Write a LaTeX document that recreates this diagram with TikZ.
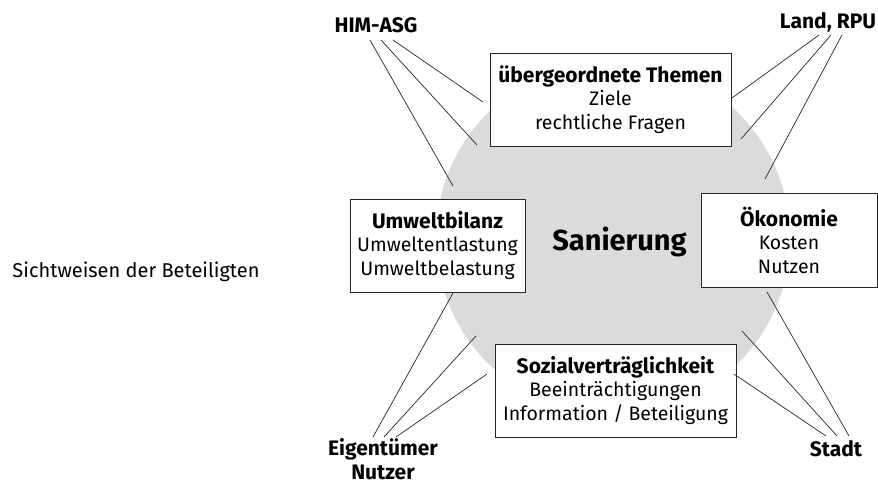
\documentclass[tikz,border=0pt]{standalone}
\usepackage{fontspec}
\setmainfont{Fira Sans}
\newcommand{\boxtitle}[1]{{\fontsize{21}{23.5}\selectfont\bfseries #1}}
\begin{document}
\begin{tikzpicture}[x=1pt,y=-1pt,
  themebox/.style={draw=black!85,line width=0.9pt,fill=white,align=center,inner sep=0pt,font=\fontsize{19.5}{23.5}\selectfont},
  actor/.style={font=\fontsize{21}{25}\selectfont\bfseries,align=center,inner sep=0pt},
  link/.style={line width=0.7pt,black!85}]
\useasboundingbox (0,0) rectangle (878,488);
\fill[black!14] (613,238) circle (177);
\node[themebox,minimum width=241,minimum height=93] (top) at (610.5,99.5) {\boxtitle{übergeordnete Themen}\\Ziele\\rechtliche Fragen};
\node[themebox,minimum width=175,minimum height=93] (left) at (437.5,245.5) {\boxtitle{Umweltbilanz}\\Umweltentlastung\\Umweltbelastung};
\node[themebox,minimum width=176,minimum height=94] (right) at (789,240) {\boxtitle{Ökonomie}\\Kosten\\Nutzen};
\node[themebox,minimum width=241,minimum height=93] (bottom) at (615.5,390.5) {\boxtitle{Sozialverträglichkeit}\\Beeinträchtigungen\\Information / Beteiligung};
\node[font=\fontsize{29}{32}\selectfont\bfseries,inner sep=0pt] (san) at (619.5,242) {Sanierung};
\node[font=\fontsize{20}{24}\selectfont,inner sep=0pt] (sicht) at (136,272) {Sichtweisen der Beteiligten};
\node[actor] (him) at (376,25) {HIM-ASG};
\node[actor] (land) at (828,22) {Land, RPU};
\node[actor,font=\fontsize{21}{24}\selectfont\bfseries] (eig) at (383,459) {Eigentümer\\Nutzer};
\node[actor] (stadt) at (836,449) {Stadt};
% HIM-ASG
\coordinate (h1) at (370,40); \coordinate (h2) at (381,40); \coordinate (h3) at (393,40);
\coordinate (h1e) at (453,186); \coordinate (h2e) at (477,145); \coordinate (h3e) at (483,102);
\draw[link] (h1) -- (h1e); \draw[link] (h2) -- (h2e); \draw[link] (h3) -- (h3e);
% Land
\coordinate (l1) at (819,35); \coordinate (l2) at (831,35); \coordinate (l3) at (842,35);
\coordinate (l1e) at (732,98); \coordinate (l2e) at (741,139); \coordinate (l3e) at (765,179);
\draw[link] (l1) -- (l1e); \draw[link] (l2) -- (l2e); \draw[link] (l3) -- (l3e);
% Eigentuemer
\coordinate (e1) at (373,437); \coordinate (e2) at (384,437); \coordinate (e3) at (396,437);
\coordinate (e1e) at (453,293); \coordinate (e2e) at (476,336); \coordinate (e3e) at (487,374);
\draw[link] (e1) -- (e1e); \draw[link] (e2) -- (e2e); \draw[link] (e3) -- (e3e);
% Stadt
\coordinate (s1) at (826,436); \coordinate (s2) at (837,436); \coordinate (s3) at (849,436);
\coordinate (s1e) at (734,374); \coordinate (s2e) at (742,331); \coordinate (s3e) at (767,292);
\draw[link] (s1) -- (s1e); \draw[link] (s2) -- (s2e); \draw[link] (s3) -- (s3e);
\end{tikzpicture}
\end{document}
